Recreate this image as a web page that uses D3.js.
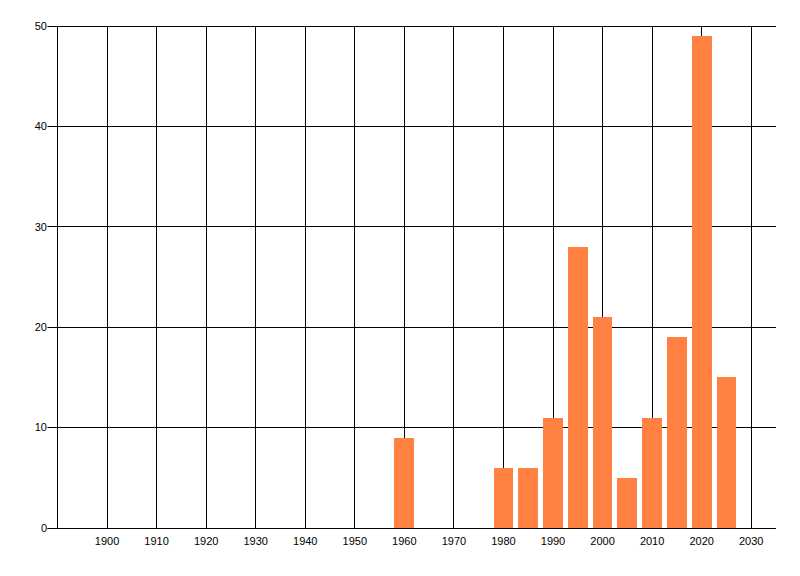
<!DOCTYPE html>
<html><head><meta charset="utf-8">
<script src="https://cdn.jsdelivr.net/npm/d3@7"></script>
<style>body{margin:0;background:#fff}svg{display:block}text{font-family:"Liberation Sans",Arial,sans-serif;font-size:11px;fill:#000}</style>
</head><body><div id="chart"></div>
<script>
const years = [1960, 1980, 1985, 1990, 1995, 2000, 2005, 2010, 2015, 2020, 2025];
const counts = [9, 6, 6, 11, 28, 21, 5, 11, 19, 49, 15];
const xTicks = [1900, 1910, 1920, 1930, 1940, 1950, 1960, 1970, 1980, 1990, 2000, 2010, 2020, 2030];
const yTicks = [0, 10, 20, 30, 40, 50];

const W = 800, H = 576;
const m = {left: 57.5, right: 24, top: 26, bottom: 48};
const svg = d3.select("#chart").append("svg").attr("width", W).attr("height", H);
const x = d3.scaleLinear().domain([1890, 2035]).range([m.left, W - m.right]);
const y = d3.scaleLinear().domain([0, 50]).range([H - m.bottom, m.top]);
const px = v => Math.floor(v) + 0.5;

const g = svg.append("g");
g.selectAll(".vg").data(xTicks).join("line")
  .attr("x1", d => px(x(d))).attr("x2", d => px(x(d)))
  .attr("y1", y(50)).attr("y2", y(0))
  .attr("stroke", "#000").attr("stroke-width", 1);
g.selectAll(".hg").data(yTicks).join("line")
  .attr("x1", m.left - 10).attr("x2", W - m.right)
  .attr("y1", d => px(y(d))).attr("y2", d => px(y(d)))
  .attr("stroke", "#000").attr("stroke-width", 1);
g.append("line").attr("x1", px(m.left)).attr("x2", px(m.left))
  .attr("y1", y(50)).attr("y2", y(0)).attr("stroke", "#000");

const bw = 4;
svg.append("g").selectAll("rect").data(years.map((yr, i) => ({yr, v: counts[i]}))).join("rect")
  .attr("x", d => Math.round(x(d.yr - bw / 2)))
  .attr("width", d => Math.round(x(d.yr + bw / 2)) - Math.round(x(d.yr - bw / 2)))
  .attr("y", d => Math.round(y(d.v)))
  .attr("height", d => Math.floor(y(0)) - Math.round(y(d.v)))
  .attr("fill", "#ff8040");

svg.append("line").attr("x1", m.left - 10).attr("x2", W - m.right)
  .attr("y1", px(y(0))).attr("y2", px(y(0))).attr("stroke", "#000");

svg.append("g").selectAll("text").data(yTicks).join("text")
  .attr("x", m.left - 10.5).attr("y", d => y(d)).attr("dy", "0.35em")
  .attr("text-anchor", "end").text(d => d);
svg.append("g").selectAll("text").data(xTicks).join("text")
  .attr("x", d => x(d)).attr("y", y(0) + 13).attr("dy", "0.35em")
  .attr("text-anchor", "middle").text(d => d);
</script></body></html>
